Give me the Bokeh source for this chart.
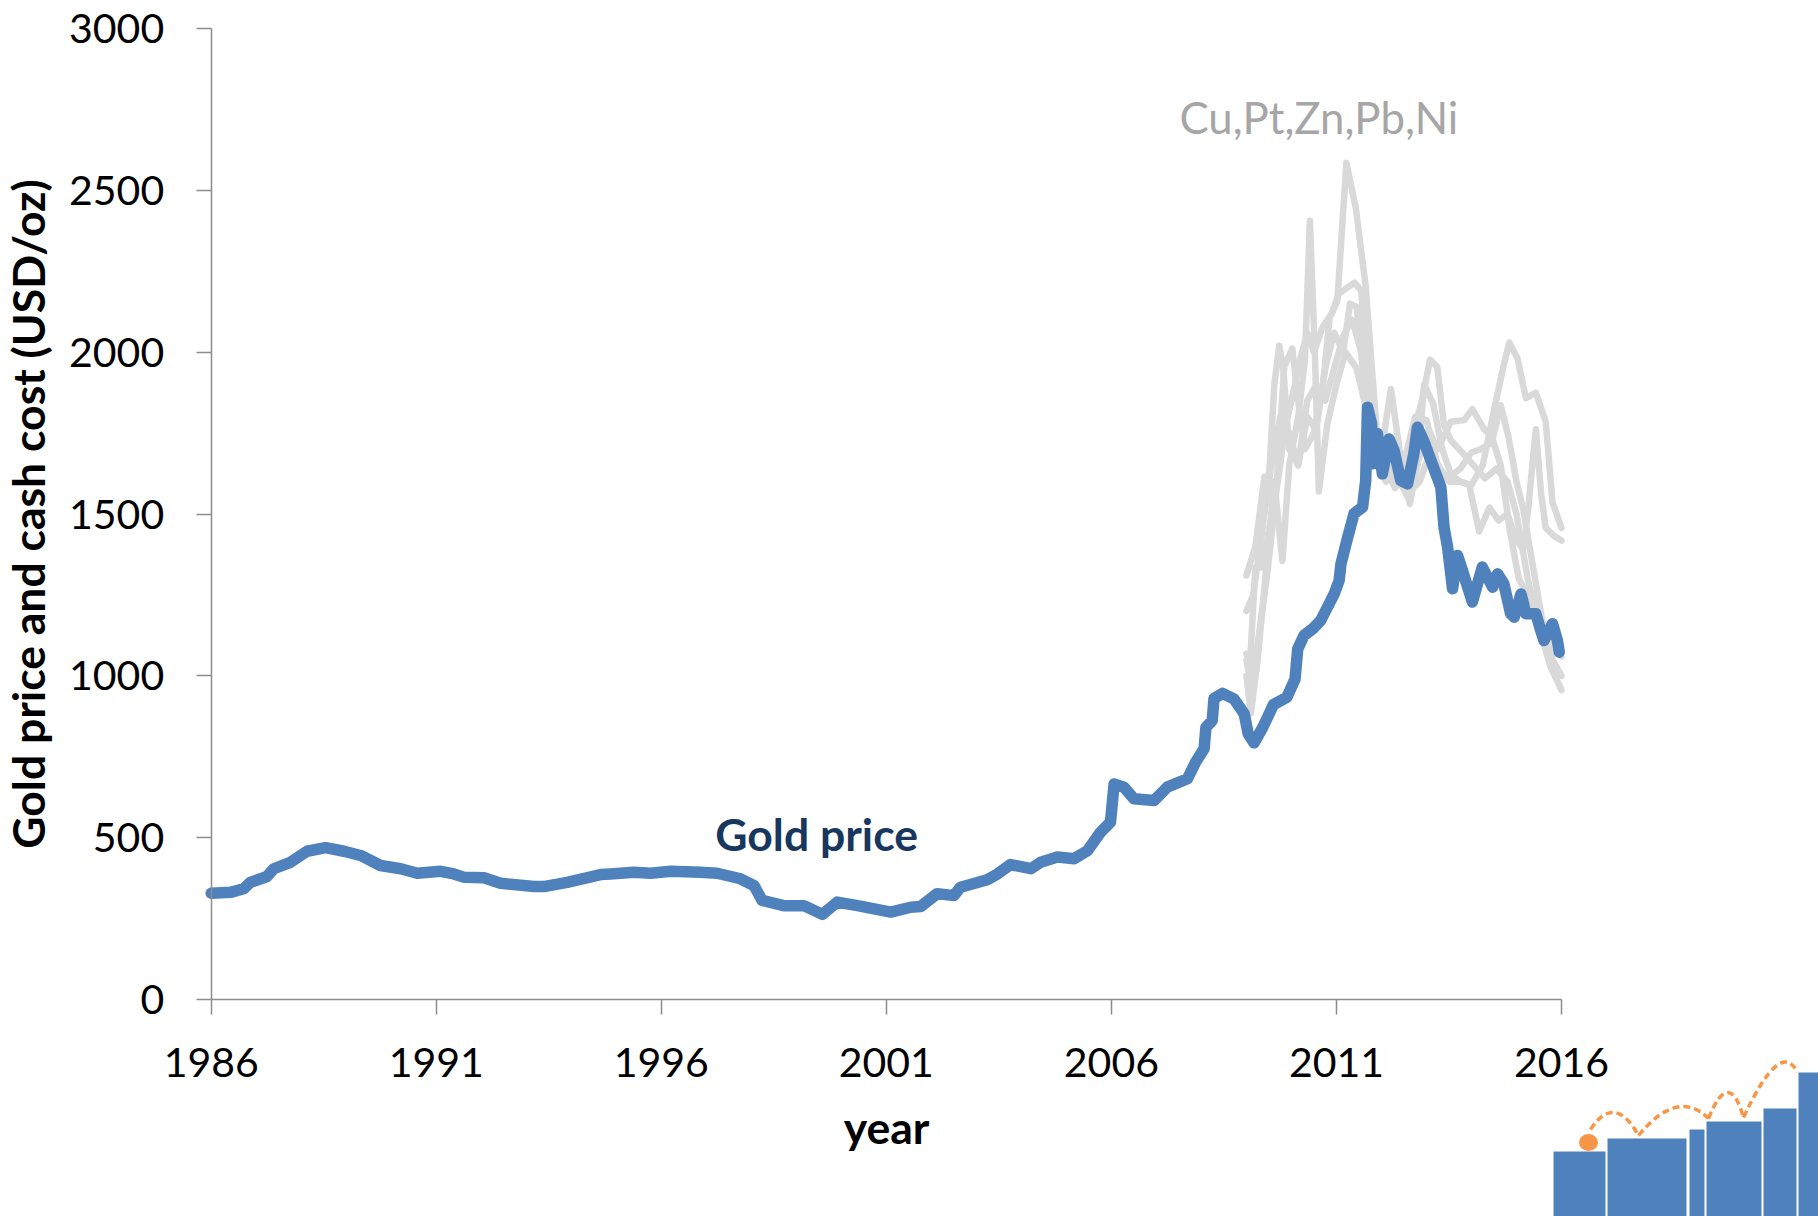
from bokeh.plotting import figure
from bokeh.models import Range1d, LinearAxis, FixedTicker, Label
from bokeh.embed import file_html
from bokeh.resources import INLINE

# ---------------- data ----------------
GOLD_YEAR = [1986.00, 1986.43, 1986.72, 1986.87, 1987.24, 1987.39, 1987.76, 1988.13, 1988.54, 1988.95,
             1989.32, 1989.76, 1990.21, 1990.58, 1991.10, 1991.39, 1991.61, 1992.06, 1992.43, 1993.17,
             1993.39, 1993.91, 1994.65, 1994.87, 1995.39, 1995.76, 1996.21, 1996.87, 1997.24, 1997.76,
             1998.06, 1998.24, 1998.72, 1999.17, 1999.58, 1999.91, 2000.36, 2001.10, 2001.54, 2001.76,
             2002.13, 2002.50, 2002.65, 2003.24, 2003.47, 2003.76, 2004.21, 2004.43, 2004.80, 2005.17,
             2005.47, 2005.76, 2005.98, 2006.06, 2006.28, 2006.50, 2006.95, 2007.24, 2007.69, 2007.87,
             2008.06, 2008.10, 2008.24, 2008.28, 2008.47, 2008.72, 2008.95, 2009.04, 2009.17, 2009.36,
             2009.47, 2009.60, 2009.90, 2010.08, 2010.14, 2010.28, 2010.47, 2010.65, 2010.95, 2011.06,
             2011.10, 2011.25, 2011.39, 2011.58, 2011.65, 2011.69, 2011.78, 2011.80, 2011.91, 2012.02,
             2012.17, 2012.28, 2012.43, 2012.58, 2012.72, 2012.80, 2012.95, 2013.10, 2013.32, 2013.39,
             2013.47, 2013.58, 2013.69, 2013.80, 2014.02, 2014.24, 2014.47, 2014.58, 2014.72, 2014.87,
             2014.95, 2015.10, 2015.21, 2015.43, 2015.54, 2015.61, 2015.80, 2015.91, 2015.95]
GOLD_PRICE = [328, 331, 342, 362, 380, 404, 424, 458, 469, 458,
              445, 414, 404, 390, 396, 388, 378, 376, 359, 349,
              349, 362, 386, 388, 393, 390, 396, 393, 390, 373,
              352, 306, 290, 290, 263, 301, 290, 270, 285, 287,
              327, 321, 347, 370, 388, 417, 404, 424, 440, 435,
              460, 517, 548, 666, 656, 620, 615, 656, 682, 733,
              775, 841, 862, 930, 946, 929, 883, 821, 793, 840,
              872, 911, 934, 990, 1083, 1125, 1145, 1171, 1253, 1295,
              1346, 1428, 1501, 1521, 1603, 1830, 1779, 1655, 1748, 1624,
              1732, 1696, 1603, 1593, 1686, 1768, 1722, 1665, 1583, 1459,
              1397, 1269, 1372, 1325, 1228, 1336, 1274, 1315, 1284, 1192,
              1181, 1253, 1192, 1192, 1140, 1109, 1161, 1109, 1073]

GA_YEAR = [2009.00, 2009.20, 2009.40, 2009.50, 2009.62, 2009.73, 2009.82, 2009.95, 2010.15, 2010.35,
           2010.55, 2010.75, 2010.95, 2011.15, 2011.30, 2011.45, 2011.60, 2011.80, 2012.00, 2012.25,
           2012.50, 2012.75, 2013.00, 2013.25, 2013.50, 2013.75, 2014.00, 2014.25, 2014.50, 2014.70,
           2014.84, 2015.02, 2015.21, 2015.43, 2015.65, 2015.80, 2016.00]
GA_COST = [1310, 1400, 1615, 1610, 1900, 2020, 1950, 1700, 1650, 1800,
           1760, 1950, 2060, 2000, 2150, 2140, 1950, 1780, 1640, 1620,
           1660, 1800, 1790, 1650, 1600, 1600, 1590, 1650, 1820, 1950,
           2030, 1982, 1858, 1875, 1785, 1536, 1457]

GB_YEAR = [2009.00, 2009.08, 2009.20, 2009.35, 2009.50, 2009.70, 2009.85, 2010.00, 2010.20, 2010.35,
           2010.50, 2010.70, 2010.90, 2011.05, 2011.25, 2011.40, 2011.55, 2011.75, 2011.95, 2012.21,
           2012.40, 2012.63, 2012.80, 2012.95, 2013.15, 2013.35, 2013.55, 2013.75, 2013.95, 2014.17,
           2014.40, 2014.60, 2014.80, 2015.00, 2015.15, 2015.25, 2015.43, 2015.55, 2015.65, 2015.85,
           2016.00]
GB_COST = [1068, 1040, 1335, 1335, 1450, 1600, 1760, 1850, 1980, 2060,
           2000, 2080, 2120, 2180, 2200, 2215, 2190, 1850, 1650, 1886,
           1700, 1531, 1650, 1900, 1840, 1700, 1620, 1600, 1590, 1446,
           1520, 1480, 1500, 1420, 1390, 1502, 1762, 1560, 1457, 1430,
           1418]

GC_YEAR = [2009.00, 2009.10, 2009.25, 2009.45, 2009.65, 2009.84, 2010.02, 2010.15, 2010.30, 2010.50,
           2010.70, 2010.85, 2011.02, 2011.22, 2011.43, 2011.65, 2011.91, 2012.10, 2012.30, 2012.50,
           2012.70, 2012.90, 2013.08, 2013.24, 2013.39, 2013.54, 2013.84, 2014.02, 2014.30, 2014.55,
           2014.80, 2015.00, 2015.25, 2015.50, 2015.75, 2016.00]
GC_COST = [1047, 980, 1100, 1300, 1550, 1954, 2011, 1850, 1700, 1750,
           1900, 2107, 2158, 2585, 2446, 2203, 1728, 1640, 1580, 1620,
           1750, 1850, 1977, 1954, 1774, 1728, 1683, 1655, 1610, 1640,
           1600, 1500, 1300, 1150, 1030, 956]

GD_YEAR = [2009.00, 2009.10, 2009.25, 2009.45, 2009.62, 2009.80, 2009.95, 2010.15, 2010.30, 2010.41,
           2010.52, 2010.61, 2010.80, 2011.00, 2011.20, 2011.45, 2011.70, 2011.90, 2012.10, 2012.35,
           2012.55, 2012.85, 2013.10, 2013.30, 2013.47, 2013.75, 2014.00, 2014.20, 2014.45, 2014.65,
           2014.82, 2015.00, 2015.15, 2015.35, 2015.60, 2015.80, 2016.00]
GD_COST = [1000, 884, 1050, 1350, 1600, 1355, 1650, 1800, 1977, 2406,
           2000, 1570, 1780, 1900, 2000, 1950, 1800, 1650, 1600, 1700,
           1560, 1600, 1700, 1640, 1610, 1640, 1690, 1700, 1720, 1836,
           1740, 1600, 1514, 1350, 1150, 1050, 1000]

GE_YEAR = [2009.00, 2009.15, 2009.35, 2009.55, 2009.75, 2009.95, 2010.15, 2010.35, 2010.55, 2010.75,
           2010.95, 2011.15, 2011.35, 2011.55, 2011.75, 2011.95, 2012.15, 2012.40, 2012.60, 2012.85,
           2013.05, 2013.25, 2013.54, 2013.84, 2014.02, 2014.28, 2014.45, 2014.65, 2014.85, 2015.05,
           2015.25, 2015.45, 2015.65, 2015.85, 2016.00]
GE_COST = [1200, 1250, 1450, 1650, 1800, 1750, 1650, 1850, 1900, 1850,
           1950, 2050, 2100, 2000, 1700, 1680, 1650, 1600, 1550, 1680,
           1760, 1700, 1785, 1790, 1824, 1762, 1740, 1650, 1450, 1300,
           1250, 1200, 1150, 1100, 1060]

X_TICKS = [1986, 1991, 1996, 2001, 2006, 2011, 2016]
X_TICK_LABELS = ["1986", "1991", "1996", "2001", "2006", "2011", "2016"]
Y_TICKS = [0, 500, 1000, 1500, 2000, 2500, 3000]
Y_TICK_LABELS = ["0", "500", "1000", "1500", "2000", "2500", "3000"]

# ---------------- figure ----------------
W, H = 1818, 1216
FONT = "Lato"
BLUE = "#4F81BD"
GRAY = "#D9D9D9"
AXIS = "#8C8C8C"
ORANGE = "#F79646"

p = figure(width=W, height=H, output_backend="svg", toolbar_location=None,
           x_range=Range1d(1981.319, 2021.710), y_range=Range1d(-670.44, 3086.51),
           x_axis_location=None, y_axis_location=None, min_border=0,
           background_fill_color="white", border_fill_color="white")
p.grid.visible = False
p.outline_line_color = None

def style_axis(ax):
    ax.axis_line_color = AXIS
    ax.axis_line_width = 1.5
    ax.major_tick_line_color = AXIS
    ax.major_tick_line_width = 1.5
    ax.major_tick_out = 15
    ax.major_tick_in = 0
    ax.minor_tick_out = 0
    ax.minor_tick_in = 0
    ax.major_label_text_font = FONT
    ax.major_label_text_font_size = "41px"
    ax.major_label_text_color = "black"
    ax.axis_label_text_font = FONT
    ax.axis_label_text_font_style = "bold"
    ax.axis_label_text_font_size = "44.5px"
    ax.axis_label_text_color = "black"

xaxis = LinearAxis(fixed_location=0, bounds=(X_TICKS[0], X_TICKS[-1]),
                   ticker=FixedTicker(ticks=X_TICKS),
                   major_label_overrides={t: l for t, l in zip(X_TICKS, X_TICK_LABELS)},
                   axis_label="year")
style_axis(xaxis)
xaxis.major_label_standoff = 33
xaxis.axis_label_standoff = 20
p.add_layout(xaxis, "below")

yaxis = LinearAxis(fixed_location=X_TICKS[0], bounds=(Y_TICKS[0], Y_TICKS[-1]),
                   ticker=FixedTicker(ticks=Y_TICKS),
                   major_label_overrides={t: l for t, l in zip(Y_TICKS, Y_TICK_LABELS)},
                   axis_label="Gold price and cash cost (USD/oz)")
style_axis(yaxis)
yaxis.major_label_standoff = 32
yaxis.axis_label_standoff = 12
p.add_layout(yaxis, "left")

for xs, ys in [(GA_YEAR, GA_COST), (GB_YEAR, GB_COST), (GC_YEAR, GC_COST),
               (GD_YEAR, GD_COST), (GE_YEAR, GE_COST)]:
    p.line(xs, ys, line_color=GRAY, line_width=6.5, line_join="round", line_cap="round")

p.line(GOLD_YEAR, GOLD_PRICE, line_color=BLUE, line_width=11.5, line_join="round", line_cap="round")

p.add_layout(Label(x=1999.45, y=512, text="Gold price", text_align="center",
                   text_baseline="alphabetic", text_font=FONT, text_font_style="bold",
                   text_font_size="44.5px", text_color="#17375E"))
p.add_layout(Label(x=2010.61, y=2728, text="Cu,Pt,Zn,Pb,Ni", text_align="center",
                   text_baseline="alphabetic", text_font=FONT,
                   text_font_size="43.7px", text_color="#A6A6A6"))

# ---------------- logo (decoration, canvas pixels) ----------------
p.extra_x_ranges = {"px": Range1d(0, W)}
p.extra_y_ranges = {"py": Range1d(H, 0)}
LOGO_LEFT = [1553, 1607, 1689, 1706, 1763, 1798]
LOGO_RIGHT = [1605, 1686, 1704, 1761, 1796, 1820]
LOGO_TOP = [1151, 1138, 1129, 1121, 1108, 1072]
p.quad(left=LOGO_LEFT, right=LOGO_RIGHT, top=LOGO_TOP, bottom=[1220] * 6,
       fill_color=BLUE, line_color=None, x_range_name="px", y_range_name="py")
p.ellipse(x=[1588], y=[1142], width=19, height=17, fill_color=ORANGE, line_color=None,
          x_range_name="px", y_range_name="py")
ARC_A = [(1590, 1129), (1638, 1135), (1708, 1118), (1743, 1117)]
ARC_P = [(1614, 1112), (1675, 1107), (1727, 1092), (1775, 1066)]
ARC_B = [(1638, 1135), (1708, 1118), (1743, 1117), (1797, 1072)]
cx = [2 * pp[0] - 0.5 * (a[0] + b[0]) for a, pp, b in zip(ARC_A, ARC_P, ARC_B)]
cy = [2 * pp[1] - 0.5 * (a[1] + b[1]) for a, pp, b in zip(ARC_A, ARC_P, ARC_B)]
p.quadratic(x0=[a[0] for a in ARC_A], y0=[a[1] for a in ARC_A],
            x1=[b[0] for b in ARC_B], y1=[b[1] for b in ARC_B], cx=cx, cy=cy,
            line_color=ORANGE, line_width=3.5, line_dash="7 4",
            x_range_name="px", y_range_name="py")

open("out.html", "w").write(file_html(p, INLINE))
